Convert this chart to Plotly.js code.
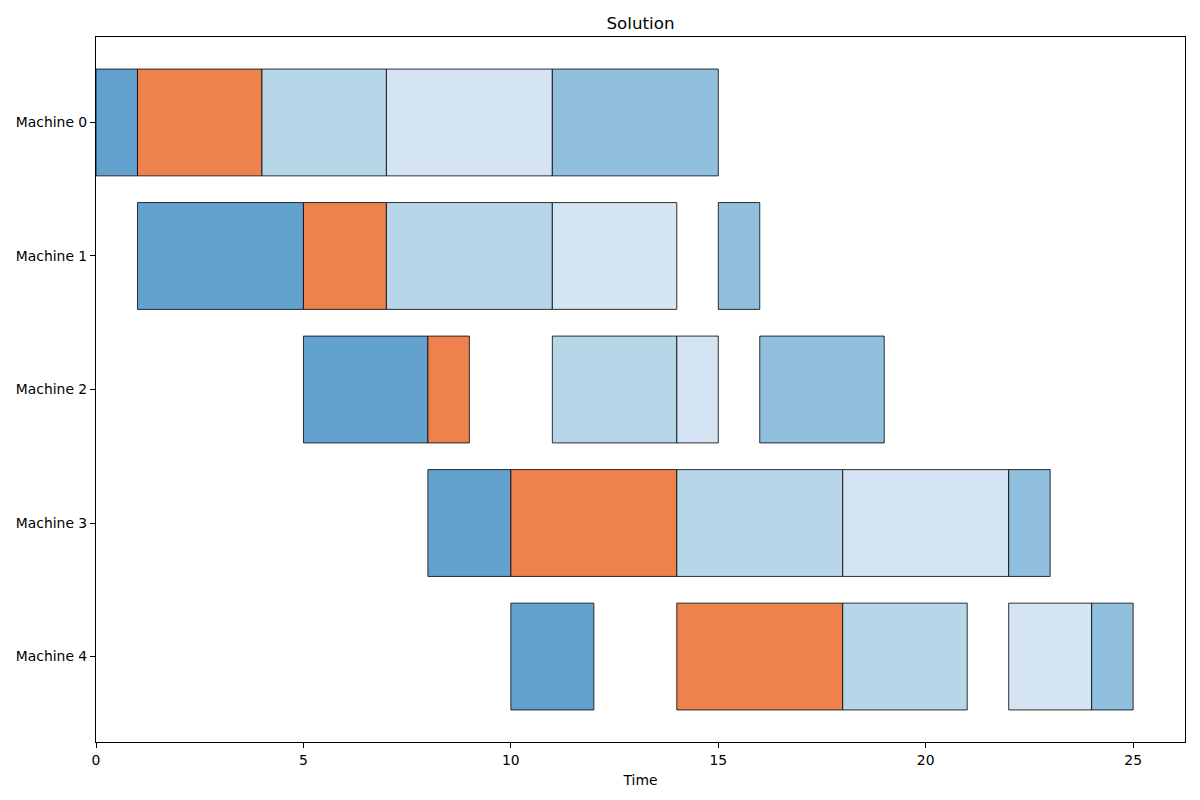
<!DOCTYPE html>
<html>
<head>
<meta charset="utf-8">
<script src="https://cdn.plot.ly/plotly-3.0.1.min.js"></script>
<style>body{margin:0;padding:0;background:#fff;} #chart{width:1200px;height:800px;}</style>
</head>
<body>
<div id="chart"></div>
<script>
const machines = ["Machine 0", "Machine 1", "Machine 2", "Machine 3", "Machine 4"];
const jobNames = ["Job 0", "Job 1", "Job 2", "Job 3", "Job 4"];
// start times per job, indexed by machine
const job0Start = [0, 1, 5, 8, 10];
const job0Dur   = [1, 4, 3, 2, 2];
const job1Start = [1, 5, 8, 10, 14];
const job1Dur   = [3, 2, 1, 4, 4];
const job2Start = [4, 7, 11, 14, 18];
const job2Dur   = [3, 4, 3, 4, 3];
const job3Start = [7, 11, 14, 18, 22];
const job3Dur   = [4, 3, 1, 4, 2];
const job4Start = [11, 15, 16, 22, 24];
const job4Dur   = [4, 1, 3, 1, 1];
const xTicks = [0, 5, 10, 15, 20, 25];

const starts = [job0Start, job1Start, job2Start, job3Start, job4Start];
const durs = [job0Dur, job1Dur, job2Dur, job3Dur, job4Dur];
const colors = ["#63a2cf", "#ee824d", "#b7d7e8", "#d4e4f2", "#91c0df"];
const yIdx = machines.map((m, i) => i);

const traces = jobNames.map((name, j) => ({
  type: "bar",
  orientation: "h",
  name: name,
  y: yIdx,
  x: durs[j],
  base: starts[j],
  width: 0.8,
  marker: { color: colors[j], line: { color: "rgba(0,0,0,0.8)", width: 1 } },
  showlegend: false,
  hoverinfo: "x+y"
}));

const font = { family: "DejaVu Sans", size: 13.9, color: "#000" };
const layout = {
  width: 1200, height: 800,
  paper_bgcolor: "#fff", plot_bgcolor: "#fff",
  margin: { l: 96, r: 15, t: 37, b: 58 },
  barmode: "overlay",
  font: font,
  title: { text: "Solution", font: { family: "DejaVu Sans", size: 16.7, color: "#000" }, xref: "paper", x: 0.5, xanchor: "center", y: 0.971, yanchor: "middle" },
  xaxis: {
    range: [0, 26.25], tickvals: xTicks, ticktext: xTicks.map(String),
    showgrid: false, zeroline: false, showline: true, mirror: true, linecolor: "#000", linewidth: 1,
    ticks: "outside", ticklen: 5, tickcolor: "#000", tickfont: font,
    title: { text: "Time", font: font, standoff: 8 }
  },
  yaxis: {
    range: [4.64, -0.64], tickvals: yIdx, ticktext: machines,
    showgrid: false, zeroline: false, showline: true, mirror: true, linecolor: "#000", linewidth: 1,
    ticks: "outside", ticklen: 5, tickcolor: "#000", tickfont: font
  }
};

Plotly.newPlot("chart", traces, layout, { displayModeBar: false, staticPlot: true });
</script>
</body>
</html>
